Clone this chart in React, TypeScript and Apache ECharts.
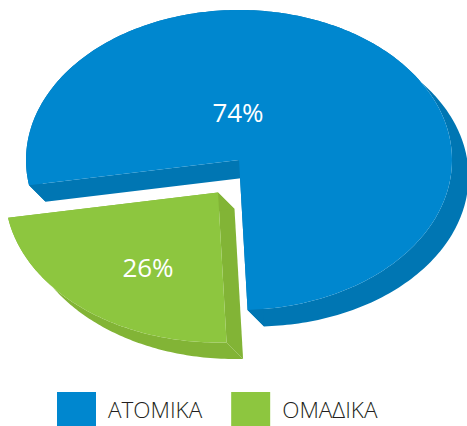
import React, { useEffect, useRef } from "react";
import * as echarts from "echarts";

const categories = ["ΑΤΟΜΙΚΑ", "ΟΜΑΔΙΚΑ"];
const values = [74, 26];
const topColors = ["#0087CF", "#8DC63F"];
const wallColors = ["#0076B3", "#82B436"];

const CENTER = [239, 160];
const RX = 213;
const RY = 150;
const DEPTH = [16.5, 16.5];
const FIRST_ANGLE = 175.8; // clockwise on screen, degrees
const TILT = 5.5;
const TILT_AXIS = 129;
const EXPLODE = [[0, 0], [-21, 32.5]];
const LABEL_POS = [[238, 112], [148, 267]];

const total = values.reduce((a, b) => a + b, 0);

function onEllipse(deg: number, off: number[]) {
  const warped = deg - TILT * Math.sin((2 * (deg - TILT_AXIS) * Math.PI) / 180);
  const r = (warped * Math.PI) / 180;
  return [CENTER[0] + off[0] + RX * Math.cos(r), CENTER[1] + off[1] + RY * Math.sin(r)];
}

function renderSlice(params: any, api: any) {
  const i = params.seriesIndex;
  const value = api.value(0);
  const before = values.slice(0, i).reduce((a, b) => a + b, 0);
  const start = FIRST_ANGLE + (before / total) * 360;
  const sweep = (value / total) * 360;
  const off = EXPLODE[i];
  const apex = [CENTER[0] + off[0], CENTER[1] + off[1]];
  const arc: number[][] = [];
  const steps = Math.ceil(sweep);
  for (let s = 0; s <= steps; s++) arc.push(onEllipse(start + (sweep * s) / steps, off));
  const shift = (p: number[]) => [p[0] + DEPTH[0], p[1] + DEPTH[1]];
  const first = arc[0];
  const last = arc[arc.length - 1];
  const wall = { fill: wallColors[i] };
  return {
    type: "group",
    children: [
      { type: "polygon", shape: { points: [...arc, ...arc.map(shift).reverse()] }, style: wall },
      { type: "polygon", shape: { points: [apex, first, shift(first), shift(apex)] }, style: wall },
      { type: "polygon", shape: { points: [apex, last, shift(last), shift(apex)] }, style: wall },
      { type: "polygon", shape: { points: [apex, ...arc] }, style: { fill: topColors[i] } },
      {
        type: "text",
        x: LABEL_POS[i][0],
        y: LABEL_POS[i][1],
        style: {
          text: `${value}%`,
          fill: "#ffffff",
          font: '26px "Open Sans"',
          align: "center",
          verticalAlign: "middle",
        },
      },
    ],
  };
}

export default function App() {
  const ref = useRef<HTMLDivElement>(null);
  useEffect(() => {
    document.body.style.margin = "0";
    const chart = echarts.init(ref.current!, null, { renderer: "svg" });
    chart.setOption({
      animation: false,
      backgroundColor: "#ffffff",
      color: topColors,
      legend: {
        left: 57,
        top: 392,
        padding: 0,
        itemWidth: 39,
        itemHeight: 34,
        itemGap: 29,
        icon: "rect",
        selectedMode: false,
        data: categories,
        textStyle: {
          fontFamily: "Open Sans",
          fontWeight: 300,
          fontSize: 22.5,
          color: "#231F20",
          padding: [9, 0, 0, 7],
        },
      },
      series: categories.map((name, i) => ({
        type: "custom",
        name,
        coordinateSystem: "none",
        silent: true,
        itemStyle: { color: topColors[i] },
        renderItem: renderSlice,
        data: [[values[i]]],
      })),
    });
    return () => chart.dispose();
  }, []);
  return <div ref={ref} style={{ width: 467, height: 426 }} />;
}
